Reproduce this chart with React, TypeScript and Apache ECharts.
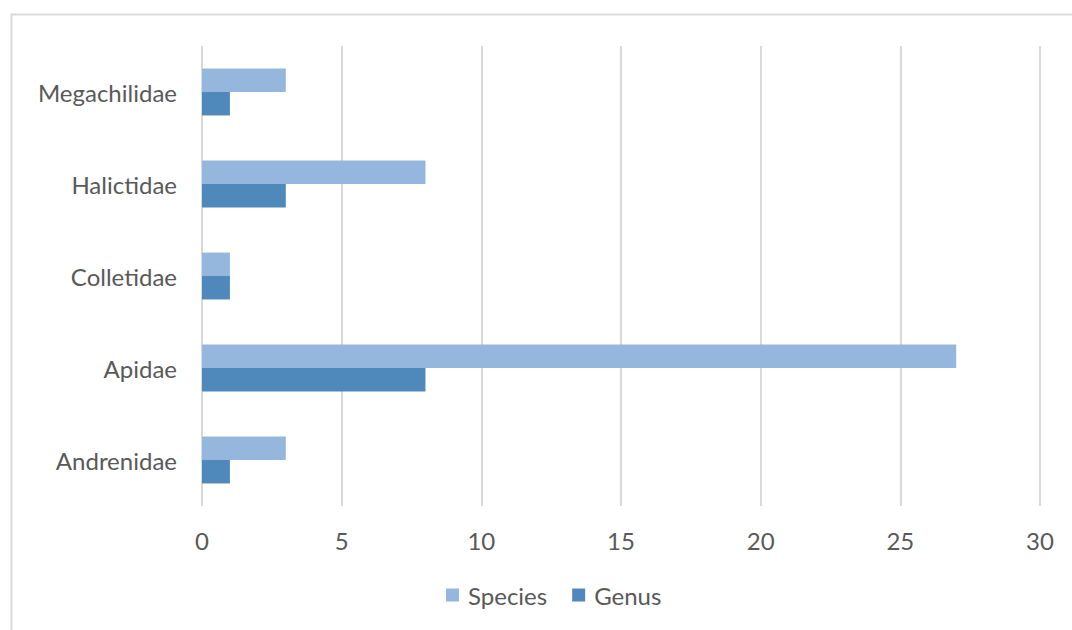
import React, { useEffect, useRef } from "react";
import * as echarts from "echarts";

const categories = ["Andrenidae", "Apidae", "Colletidae", "Halictidae", "Megachilidae"];
const speciesValues = [3, 27, 1, 8, 3];
const genusValues = [1, 8, 1, 3, 1];
const xTicks = { min: 0, max: 30, interval: 5 };

export default function App() {
  const ref = useRef<HTMLDivElement>(null);
  useEffect(() => {
    if (!ref.current) return;
    const chart = echarts.init(ref.current, undefined, { renderer: "svg" });
    const font = "Lato, 'Open Sans', sans-serif";
    chart.setOption({
      animation: false,
      backgroundColor: "#ffffff",
      graphic: [
        {
          type: "rect",
          shape: { x: 11.5, y: 14.5, width: 1200, height: 800 },
          style: { fill: "none", stroke: "#d9d9d9", lineWidth: 2 },
          silent: true,
        },
      ],
      legend: {
        data: ["Species", "Genus"],
        bottom: 18,
        left: 441,
        itemWidth: 13,
        itemHeight: 13,
        itemGap: 25,
        icon: "rect",
        textStyle: { color: "#595959", fontSize: 24, fontFamily: font, padding: [0, 0, 0, 4] },
      },
      grid: { left: 202, right: 32, top: 46, height: 460, containLabel: false },
      xAxis: {
        type: "value",
        min: xTicks.min,
        max: xTicks.max,
        interval: xTicks.interval,
        axisLine: { show: false },
        axisTick: { show: false },
        splitLine: { show: true, lineStyle: { color: "#d9d9d9", width: 2 } },
        axisLabel: { color: "#595959", fontSize: 24, fontFamily: font, margin: 22 },
      },
      yAxis: {
        type: "category",
        data: categories,
        axisLine: { show: false },
        axisTick: { show: false },
        axisLabel: {
          color: "#595959",
          fontSize: 24,
          fontFamily: font,
          margin: 25,
        },
      },
      series: [
        {
          name: "Species",
          type: "bar",
          data: speciesValues,
          itemStyle: { color: "#95b7de" },
          barGap: "0%",
          barCategoryGap: "49%",
        },
        {
          name: "Genus",
          type: "bar",
          data: genusValues,
          itemStyle: { color: "#4f88bb" },
          barGap: "0%",
          barCategoryGap: "49%",
        },
      ],
    });
    return () => chart.dispose();
  }, []);
  return (
    <div
      ref={ref}
      style={{ position: "fixed", left: 0, top: 0, width: 1072, height: 630 }}
    />
  );
}
